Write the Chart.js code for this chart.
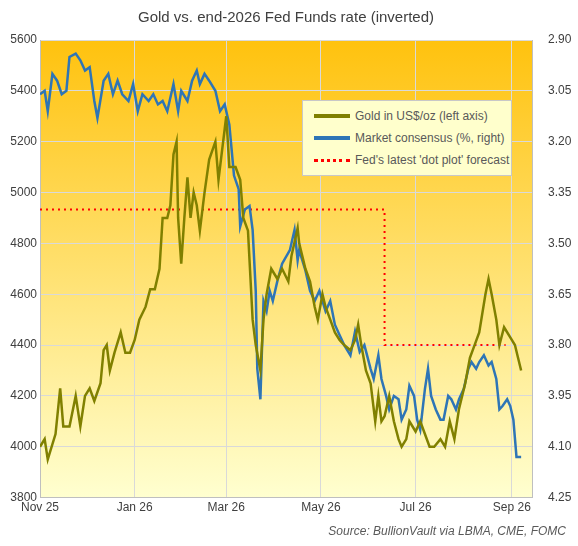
<!DOCTYPE html>
<html><head><meta charset="utf-8">
<script src="https://cdn.jsdelivr.net/npm/chart.js@4"></script>
<style>
body{margin:0;background:#fff;font-family:"Liberation Sans",Arial,sans-serif;}
#wrap{position:relative;width:578px;height:546px;}
#legend{position:absolute;left:302px;top:100px;width:208px;padding:4px 0;background:#ffffcc;border:1px solid #c8c8c8;font-size:12px;color:#595959;}
#legend div{display:flex;align-items:center;height:22px;padding-left:11px;}
#legend span{display:inline-block;width:36px;margin-right:5px;}
#src{position:absolute;right:12px;top:524px;font-size:12px;font-style:italic;color:#595959;}
</style></head><body>
<div id="wrap"><canvas id="c" width="578" height="546"></canvas>
<div id="legend">
<div><span style="border-top:4px solid #808000"></span>Gold in US$/oz (left axis)</div>
<div><span style="border-top:4px solid #2e75b6"></span>Market consensus (%, right)</div>
<div><span style="border-top:3px dotted #ff0000"></span>Fed's latest 'dot plot' forecast</div>
</div>
<div id="src">Source: BullionVault via LBMA, CME, FOMC</div></div>
<script>
// days since 1 Nov 2025
const monthDays = [0, 61, 120, 181, 242, 304];
const monthLabels = ['Nov 25', 'Jan 26', 'Mar 26', 'May 26', 'Jul 26', 'Sep 26'];

const goldDays = [0,3,5,10,13,15,19,23,26,29,32,35,39,41,43,45,48,52,55,58,61,64,68,71,74,77,79,82,84,86,88,89,91,93,95,97,99,101,103,106,109,113,115,117,119,120,122,126,129,131,134,137,139,142,144,146,149,153,156,160,162,166,167,171,174,177,179,182,184,187,190,193,196,200,203,205,207,210,213,216,218,220,222,225,228,231,233,236,238,242,245,248,251,254,258,261,264,267,270,274,277,280,283,287,289,291,294,296,299,303,306,308,310];
const goldPrice = [4000,4030,3950,4050,4230,4080,4080,4200,4080,4200,4230,4180,4250,4380,4400,4300,4370,4450,4370,4370,4420,4500,4550,4620,4620,4700,4900,4900,4950,5150,5200,4900,4720,4900,5060,4900,5000,4950,4850,5000,5130,5200,5050,5150,5250,5300,5100,5100,5050,4900,4850,4500,4400,4300,4500,4600,4700,4660,4700,4650,4750,4860,4800,4700,4650,4550,4500,4600,4550,4500,4450,4420,4400,4380,4420,4480,4400,4300,4250,4100,4200,4100,4120,4200,4100,4030,4000,4030,4100,4060,4100,4050,4000,4000,4030,4000,4100,4030,4150,4250,4350,4400,4450,4600,4660,4600,4500,4400,4470,4430,4400,4350,4300];

const rateDays = [0,3,5,8,11,14,17,19,23,26,29,32,35,37,41,44,47,50,53,57,60,63,66,70,73,76,79,82,86,89,91,95,98,101,103,106,109,113,116,119,122,125,128,129,132,135,137,139,140,142,144,146,148,150,153,156,161,164,166,167,171,174,177,180,184,187,190,193,196,200,203,206,209,213,215,218,220,223,225,228,231,233,236,238,241,243,245,248,250,252,255,258,260,263,265,268,270,273,276,278,281,283,286,289,291,294,296,298,301,303,305,307,308,310];
const rateConsensus = [3.06,3.05,3.11,3.00,3.02,3.06,3.05,2.95,2.94,2.96,2.99,2.98,3.08,3.13,3.02,3.00,3.06,3.02,3.06,3.08,3.03,3.11,3.06,3.08,3.06,3.09,3.08,3.11,3.03,3.11,3.05,3.08,3.02,2.99,3.03,3.00,3.02,3.05,3.11,3.09,3.15,3.30,3.34,3.45,3.40,3.39,3.46,3.64,3.87,3.96,3.67,3.70,3.64,3.67,3.61,3.56,3.52,3.46,3.55,3.52,3.58,3.64,3.67,3.64,3.70,3.67,3.74,3.77,3.80,3.83,3.76,3.82,3.80,3.87,3.90,3.83,3.90,3.95,3.99,3.95,3.96,4.02,3.99,3.92,3.95,4.02,4.05,3.93,3.87,3.95,3.99,4.02,4.02,3.95,3.96,3.99,3.96,3.93,3.87,3.85,3.87,3.85,3.83,3.86,3.85,3.90,3.99,3.98,3.96,3.98,4.02,4.13,4.13,4.13];

const dotDays = [0, 222, 222, 300];
const dotRate = [3.40, 3.40, 3.80, 3.80];

const toXY = (xs, ys) => xs.map((x, i) => ({x, y: ys[i]}));

const bgPlugin = {
  id: 'bg',
  beforeDraw(chart) {
    const {ctx, chartArea: a} = chart;
    const g = ctx.createLinearGradient(0, a.top, 0, a.bottom);
    g.addColorStop(0, '#ffc20e'); g.addColorStop(1, '#ffffd0');
    ctx.save(); ctx.fillStyle = g;
    ctx.fillRect(a.left, a.top, a.right - a.left, a.bottom - a.top);
    ctx.restore();
  }
};

new Chart(document.getElementById('c'), {
  type: 'line',
  data: {
    datasets: [
      { data: toXY(goldDays, goldPrice), yAxisID: 'y', borderColor: '#808000', borderWidth: 2.5, pointRadius: 0, tension: 0 },
      { data: toXY(rateDays, rateConsensus), yAxisID: 'y1', borderColor: '#2e75b6', borderWidth: 2.5, pointRadius: 0, tension: 0 },
      { data: toXY(dotDays, dotRate), yAxisID: 'y1', borderColor: '#ff0000', borderWidth: 2, borderDash: [2, 4], pointRadius: 0 },
    ],
  },
  options: {
    responsive: false, animation: false,
    layout: { padding: { top: 0, right: 6, bottom: 28, left: 0 } },
    plugins: {
      legend: { display: false }, tooltip: { enabled: false },
      title: { display: true, text: 'Gold vs. end-2026 Fed Funds rate (inverted)', color: '#404040', font: { size: 15, weight: 'normal', family: 'Liberation Sans' }, padding: { top: 9, bottom: 13 } },
    },
    scales: {
      x: {
        type: 'linear', min: 0, max: 317,
        afterBuildTicks: s => { s.ticks = monthDays.map(v => ({value: v})); },
        ticks: { callback: v => monthLabels[monthDays.indexOf(v)], color: '#404040', font: { size: 12 }, maxRotation: 0 },
        grid: { color: '#d9d9d9', drawTicks: false }, border: { color: '#bfbfbf' },
      },
      y: {
        min: 3800, max: 5600, position: 'left',
        ticks: { stepSize: 200, callback: v => String(v), color: '#404040', font: { size: 12 } },
        grid: { color: '#d9d9d9', drawTicks: false }, border: { color: '#bfbfbf' },
        afterFit: s => { s.width = 40; },
      },
      y1: {
        min: 2.90, max: 4.25, reverse: true, position: 'right',
        afterBuildTicks: s => { s.ticks = [2.90,3.05,3.20,3.35,3.50,3.65,3.80,3.95,4.10,4.25].map(v => ({value: v})); },
        ticks: { callback: v => v.toFixed(2), color: '#404040', font: { size: 12 }, padding: 8 },
        grid: { display: false }, border: { color: '#bfbfbf' },
        afterFit: s => { s.width = 40; },
      },
    },
  },
  plugins: [bgPlugin],
});
</script></body></html>
